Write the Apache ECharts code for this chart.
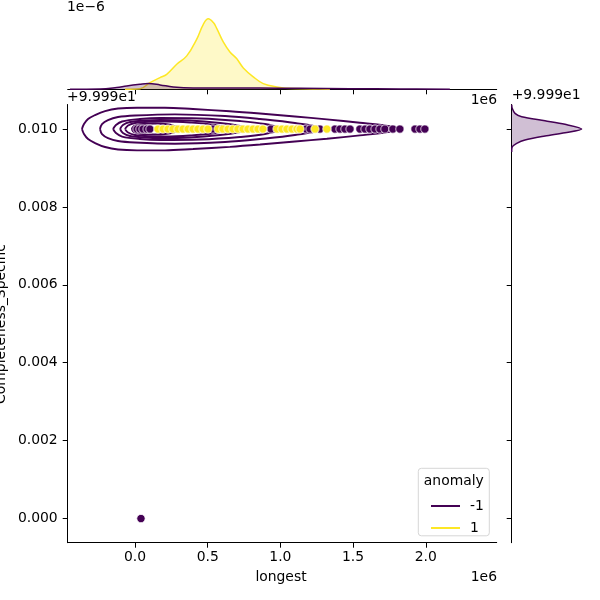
<!DOCTYPE html>
<html><head><meta charset="utf-8">
<script src="https://cdn.jsdelivr.net/npm/echarts@6/dist/echarts.min.js"></script>
<style>html,body{margin:0;padding:0;background:#fff}#c{width:600px;height:600px}</style>
</head><body><div id="c"></div>
<script>
const PURPLE = '#440154', YELLOW = '#fde725';
const FONT = 'DejaVu Sans';

// x values in units of 1e6 ("longest"), y values as offset from 99.99 ("Completeness_Specific")
const xTicks = [0, 0.5, 1.0, 1.5, 2.0];
const yTicks = [0, 0.002, 0.004, 0.006, 0.008, 0.010];

// scatter, anomaly = -1
const purpleX = [0.014, 0.034, 0.055, 0.083, 0.103, 0.536, 0.935, 1.176, 1.204, 1.272, 1.375, 1.410, 1.444, 1.479, 1.547, 1.582, 1.616, 1.651, 1.685, 1.719, 1.774, 1.822, 1.926, 1.960, 1.994, 0.041];
const purpleY = [0.010, 0.010, 0.010, 0.010, 0.010, 0.010, 0.010, 0.010, 0.010, 0.010, 0.010, 0.010, 0.010, 0.010, 0.010, 0.010, 0.010, 0.010, 0.010, 0.010, 0.010, 0.010, 0.010, 0.010, 0.010, 0.000];
// scatter, anomaly = 1
const yellowX = [0.158, 0.193, 0.227, 0.261, 0.296, 0.330, 0.365, 0.399, 0.433, 0.468, 0.502, 0.571, 0.605, 0.640, 0.674, 0.708, 0.743, 0.777, 0.812, 0.846, 0.880, 0.977, 1.011, 1.045, 1.080, 1.114, 1.135, 1.238, 1.320];
const yellowY = [0.010, 0.010, 0.010, 0.010, 0.010, 0.010, 0.010, 0.010, 0.010, 0.010, 0.010, 0.010, 0.010, 0.010, 0.010, 0.010, 0.010, 0.010, 0.010, 0.010, 0.010, 0.010, 0.010, 0.010, 0.010, 0.010, 0.010, 0.010, 0.010];

// joint KDE contours of anomaly = -1 (centre line and half-heights)
const contourCenter = 0.010;
const c1X = [-0.365, -0.351, -0.323, -0.275, -0.206, -0.117, 0.014, 0.206, 0.399, 0.653, 0.860, 1.100, 1.320, 1.547, 1.719, 1.836];
const c1H = [0, 0.000128, 0.000257, 0.000359, 0.000462, 0.000526, 0.000547, 0.000547, 0.000513, 0.000457, 0.000398, 0.000321, 0.000249, 0.000162, 0.000090, 0];
const c2X = [-0.241, -0.227, -0.186, -0.117, 0.000, 0.275, 0.619, 0.860, 1.100, 1.307];
const c2H = [0, 0.000128, 0.000231, 0.000308, 0.000347, 0.000377, 0.000334, 0.000257, 0.000154, 0];
const c3X = [-0.151, -0.131, -0.089, 0.034, 0.172, 0.447, 0.722, 0.894, 1.011];
const c3H = [0, 0.000103, 0.000193, 0.000257, 0.000282, 0.000270, 0.000205, 0.000128, 0];
const c4X = [-0.103, -0.083, -0.034, 0.069, 0.172, 0.378, 0.585, 0.722, 0.791];
const c4H = [0, 0.000103, 0.000180, 0.000218, 0.000231, 0.000218, 0.000154, 0.000077, 0];
const c5X = [-0.069, -0.048, 0.000, 0.103, 0.206, 0.378, 0.550, 0.653];
const c5H = [0, 0.000090, 0.000154, 0.000187, 0.000193, 0.000167, 0.000103, 0];
const c6X = [-0.023, -0.007, 0.034, 0.138, 0.206, 0.275, 0.323];
const c6H = [0, 0.000077, 0.000123, 0.000141, 0.000128, 0.000077, 0];

// top marginal KDE of "longest" (density in units of 1e-6)
const topYellowX = [-0.069, 0.034, 0.103, 0.172, 0.218, 0.287, 0.356, 0.424, 0.470, 0.504, 0.539, 0.562, 0.607, 0.653, 0.699, 0.745, 0.814, 0.882, 0.975, 1.089, 1.226, 1.341];
const topYellowD = [0, 0.013, 0.176, 0.308, 0.395, 0.658, 0.879, 1.316, 1.711, 1.855, 1.755, 1.605, 1.248, 0.984, 0.808, 0.563, 0.326, 0.150, 0.063, 0.018, 0.011, 0];
const topPurpleX = [-0.447, -0.241, -0.126, -0.057, 0.034, 0.091, 0.172, 0.263, 0.399, 0.585, 0.860, 1.135, 1.479, 1.823, 2.166];
const topPurpleD = [0, 0.005, 0.045, 0.089, 0.132, 0.150, 0.116, 0.063, 0.037, 0.037, 0.032, 0.026, 0.016, 0.008, 0.002];

// right marginal KDE of "Completeness_Specific", anomaly = -1
const rightPurpleY = [0.010629, 0.010531, 0.010403, 0.010316, 0.010213, 0.010121, 0.010000, 0.009905, 0.009820, 0.009718, 0.009633, 0.009546, 0.009410];
const rightPurpleD = [0, 13, 87, 263, 876, 1402, 1842, 1402, 876, 350, 132, 16, 0];

const X_MIN = -0.463, X_MAX = 2.488, Y_MIN = -0.00062, Y_MAX = 0.01063;

function zip(a, b) { return a.map((v, i) => [v, b[i]]); }
function loop(xs, hs) {
  const top = xs.map((x, i) => [x, contourCenter + hs[i]]);
  const bot = xs.map((x, i) => [x, contourCenter - hs[i]]).reverse().slice(1);
  return top.concat(bot);
}

const chart = echarts.init(document.getElementById('c'), null, {renderer: 'canvas'});
const axisLine = {show: true, onZero: false, lineStyle: {color: '#000', width: 1}};
const tickStyle = {color: '#000', width: 1};
const labelStyle = {fontSize: 13.9, color: '#000', fontFamily: FONT};

const contourSeries = [[c1X, c1H], [c2X, c2H], [c3X, c3H], [c4X, c4H], [c5X, c5H], [c6X, c6H]].map(([xs, hs]) => ({
  type: 'line', xAxisIndex: 0, yAxisIndex: 0, data: loop(xs, hs), smooth: 0.35,
  showSymbol: false, symbol: 'none', lineStyle: {color: PURPLE, width: 1.9}, z: 2, silent: true
}));

const option = {
  animation: false,
  backgroundColor: '#fff',
  grid: [
    {left: 67.7, top: 104.5, width: 429, height: 438.2},
    {left: 67.7, top: 13.3, width: 429, height: 76},
    {left: 511.7, top: 104.5, width: 76, height: 438.2}
  ],
  xAxis: [
    {gridIndex: 0, type: 'value', min: X_MIN, max: X_MAX, splitLine: {show: false}, axisLine,
     axisTick: {show: true, length: 5, lineStyle: tickStyle, customValues: xTicks},
     axisLabel: Object.assign({customValues: xTicks, margin: 8, formatter: v => v.toFixed(1)}, labelStyle)},
    {gridIndex: 1, type: 'value', min: X_MIN, max: X_MAX, splitLine: {show: false}, axisLine,
     axisTick: {show: true, length: 5, lineStyle: tickStyle, customValues: xTicks},
     axisLabel: {show: false}},
    {gridIndex: 2, type: 'value', min: 0, max: 2000, show: false}
  ],
  yAxis: [
    {gridIndex: 0, type: 'value', min: Y_MIN, max: Y_MAX, splitLine: {show: false}, axisLine,
     axisTick: {show: true, length: 5, lineStyle: tickStyle, customValues: yTicks},
     axisLabel: Object.assign({customValues: yTicks, margin: 10, formatter: v => v.toFixed(3)}, labelStyle)},
    {gridIndex: 1, type: 'value', min: 0, max: 2.0, show: false},
    {gridIndex: 2, type: 'value', min: Y_MIN, max: Y_MAX, splitLine: {show: false}, axisLine,
     axisTick: {show: true, length: 5, lineStyle: tickStyle, customValues: yTicks},
     axisLabel: {show: false}}
  ],
  legend: {
    orient: 'vertical', left: 426, top: 494, itemWidth: 29, itemHeight: 2, itemGap: 8,
    icon: 'rect', selectedMode: false, data: ['-1', '1'], z: 30, zlevel: 0,
    itemStyle: {borderWidth: 0},
    textStyle: {fontSize: 13.9, color: '#000', fontFamily: FONT, padding: [0, 0, 0, 5]}
  },
  series: contourSeries.concat([
    {name: '-1', type: 'scatter', xAxisIndex: 0, yAxisIndex: 0, data: zip(purpleX, purpleY), symbolSize: 8.3,
     itemStyle: {color: PURPLE, borderColor: '#fff', borderWidth: 0.75, opacity: 1}, z: 3},
    {name: '1', type: 'scatter', xAxisIndex: 0, yAxisIndex: 0, data: zip(yellowX, yellowY), symbolSize: 8.3,
     itemStyle: {color: YELLOW, borderColor: '#fff', borderWidth: 0.75, opacity: 1}, z: 3},
    {type: 'line', xAxisIndex: 1, yAxisIndex: 1, data: zip(topYellowX, topYellowD), smooth: 0.4, showSymbol: false, symbol: 'none',
     lineStyle: {color: YELLOW, width: 1.5}, areaStyle: {color: YELLOW, opacity: 0.25}, z: 2, silent: true},
    {type: 'line', xAxisIndex: 1, yAxisIndex: 1, data: zip(topPurpleX, topPurpleD), smooth: 0.4, showSymbol: false, symbol: 'none',
     lineStyle: {color: PURPLE, width: 1.5}, areaStyle: {color: PURPLE, opacity: 0.25}, z: 3, silent: true},
    {type: 'custom', xAxisIndex: 2, yAxisIndex: 2, data: [[0, 0.01]], clip: true, silent: true, z: 2,
     renderItem: function (params, api) {
       if (params.dataIndex !== 0) return null;
       const pts = rightPurpleD.map((d, i) => api.coord([d, rightPurpleY[i]]));
       return {type: 'group', children: [
         {type: 'polygon', shape: {points: pts, smooth: 0.3}, style: {fill: 'rgba(68,1,84,0.25)', stroke: null}},
         {type: 'polyline', shape: {points: pts, smooth: 0.3}, style: {fill: null, stroke: PURPLE, lineWidth: 1.5}}
       ]};
     }}
  ]),
  graphic: [
    {type: 'text', left: 67, top: 0, style: {text: '1e\u22126', font: '13.9px "DejaVu Sans"', fill: '#000'}},
    {type: 'text', x: 67, y: 97, style: {text: '+9.999e1', font: '13.9px "DejaVu Sans"', fill: '#000', verticalAlign: 'middle', align: 'left'}},
    {type: 'text', x: 497, y: 100, style: {text: '1e6', font: '13.9px "DejaVu Sans"', fill: '#000', verticalAlign: 'middle', align: 'right'}},
    {type: 'text', x: 511.7, y: 95.5, style: {text: '+9.999e1', font: '13.9px "DejaVu Sans"', fill: '#000', verticalAlign: 'middle', align: 'left'}},
    {type: 'text', x: 497, y: 577, style: {text: '1e6', font: '13.9px "DejaVu Sans"', fill: '#000', verticalAlign: 'middle', align: 'right'}},
    {type: 'text', x: 281, y: 577, style: {text: 'longest', font: '13.9px "DejaVu Sans"', fill: '#000', verticalAlign: 'middle', align: 'center'}},
    {type: 'text', x: 1.5, y: 324, rotation: Math.PI / 2, style: {text: 'Completeness_Specific', font: '13.9px "DejaVu Sans"', fill: '#000', verticalAlign: 'middle', align: 'center'}},
    {type: 'rect', shape: {x: 418.3, y: 468.3, width: 71, height: 67.5, r: 3}, style: {fill: '#fff', stroke: '#d6d6d6', lineWidth: 1}, z: 1},
    {type: 'text', x: 453.8, y: 481, style: {text: 'anomaly', font: '13.9px "DejaVu Sans"', fill: '#000', verticalAlign: 'middle', align: 'center'}, z: 2}
  ]
};
chart.setOption(option);
</script>
</body></html>
